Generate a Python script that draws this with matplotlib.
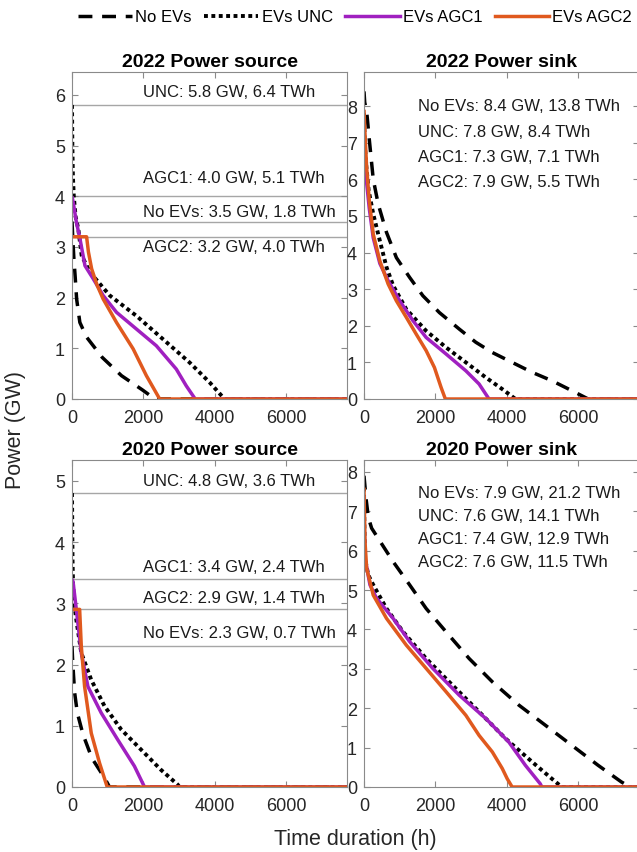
import matplotlib

matplotlib.use("Agg")
import matplotlib.pyplot as plt
from matplotlib.lines import Line2D

# ---- styling ----------------------------------------------------------------
PURPLE = "#A020C0"
ORANGE = "#E0591E"
HLINE = "#a6a6a6"
FRAME = "#8a8a8a"
TICKTXT = "#262626"

plt.rcParams.update(
    {
        "font.family": ["Liberation Sans", "DejaVu Sans"],
        "font.size": 12,
        "axes.edgecolor": FRAME,
        "axes.linewidth": 0.8,
        "figure.facecolor": "white",
    }
)

SHORT = ["No EVs", "UNC", "AGC1", "AGC2"]
LEGEND = ["No EVs", "EVs UNC", "EVs AGC1", "EVs AGC2"]
HOURS_IN_YEAR = 8760

# ---- 2022 power source: duration curves (h, GW) ------------------------------
src22_noev_h = [0, 20, 50, 90, 130, 220, 409, 847, 1386, 1970, 2320]
src22_noev_gw = [3.5, 3.2, 2.8, 2.4, 1.97, 1.51, 1.22, 0.82, 0.46, 0.18, 0.0]
src22_unc_h = [0, 10, 25, 50, 100, 177, 270, 502, 1060, 1804, 2548, 3292, 3850, 4270]
src22_unc_gw = [5.8, 5.0, 4.4, 4.0, 3.6, 3.35, 2.83, 2.5, 2.04, 1.64, 1.18, 0.72, 0.33, 0.0]
src22_agc1_h = [0, 40, 120, 223, 363, 595, 874, 1246, 1804, 2362, 2920, 3199, 3450]
src22_agc1_gw = [4.0, 3.85, 3.5, 3.16, 2.63, 2.37, 2.04, 1.71, 1.38, 1.05, 0.59, 0.26, 0.0]
src22_agc2_h = [0, 409, 460, 549, 700, 874, 1246, 1711, 2083, 2455]
src22_agc2_gw = [3.2, 3.2, 2.9, 2.57, 2.25, 1.97, 1.51, 0.99, 0.46, 0.0]
src22_peak_gw = [3.5, 5.8, 4.0, 3.2]
src22_energy_twh = [1.8, 6.4, 5.1, 4.0]

# ---- 2022 power sink ---------------------------------------------------------
snk22_noev_h = [0, 20, 74, 148, 259, 398, 630, 907, 1278, 1648, 2111, 2667, 3130,
                3593, 4148, 4704, 5260, 5815, 6278]
snk22_noev_gw = [8.4, 8.1, 7.86, 7.09, 6.0, 5.32, 4.55, 3.86, 3.32, 2.82, 2.36, 1.91,
                 1.55, 1.27, 1.0, 0.73, 0.5, 0.23, 0.0]
snk22_unc_h = [0, 20, 60, 130, 259, 444, 630, 815, 1185, 1741, 2296, 2852, 3408, 3871, 4241]
snk22_unc_gw = [7.8, 7.0, 6.4, 5.7, 5.05, 4.32, 3.6, 3.1, 2.45, 1.86, 1.41, 1.0, 0.59, 0.27, 0.0]
snk22_agc1_h = [0, 28, 74, 148, 259, 444, 676, 1000, 1370, 1741, 2296, 2852, 3222, 3500]
snk22_agc1_gw = [7.3, 6.4, 5.9, 5.2, 4.4, 3.7, 3.23, 2.68, 2.14, 1.68, 1.23, 0.77, 0.41, 0.0]
snk22_agc2_h = [0, 28, 74, 148, 259, 444, 676, 907, 1185, 1463, 1741, 1972, 2157, 2278]
snk22_agc2_gw = [7.9, 7.23, 6.32, 5.41, 4.5, 3.77, 3.14, 2.68, 2.23, 1.77, 1.32, 0.86, 0.32, 0.0]
snk22_peak_gw = [8.4, 7.8, 7.3, 7.9]
snk22_energy_twh = [13.8, 8.4, 7.1, 5.5]

# ---- 2020 power source -------------------------------------------------------
src20_noev_h = [0, 15, 40, 74, 149, 307, 558, 911, 1050]
src20_noev_gw = [2.3, 2.1, 1.85, 1.54, 1.21, 0.86, 0.47, 0.15, 0.0]
src20_unc_h = [0, 8, 15, 30, 60, 121, 260, 539, 911, 1376, 1934, 2492, 2957, 3010]
src20_unc_gw = [4.8, 4.2, 3.7, 3.3, 3.0, 2.73, 2.19, 1.75, 1.32, 0.94, 0.61, 0.28, 0.04, 0.0]
src20_agc1_h = [0, 30, 121, 260, 446, 818, 1283, 1748, 2030]
src20_agc1_gw = [3.4, 3.35, 2.9, 2.19, 1.64, 1.21, 0.77, 0.34, 0.0]
src20_agc2_h = [0, 214, 260, 353, 539, 772, 986]
src20_agc2_gw = [2.9, 2.9, 2.3, 1.64, 0.88, 0.39, 0.0]
src20_peak_gw = [2.3, 4.8, 3.4, 2.9]
src20_energy_twh = [0.7, 3.6, 2.4, 1.4]

# ---- 2020 power sink ---------------------------------------------------------
snk20_noev_h = [0, 30, 60, 120, 213, 815, 1278, 1741, 2296, 2945, 3593, 4334, 5075,
                5815, 6556, 7204, 7450]
snk20_noev_gw = [7.9, 7.6, 7.3, 6.85, 6.57, 5.72, 5.13, 4.53, 3.94, 3.26, 2.67, 2.08,
                 1.57, 1.06, 0.55, 0.13, 0.0]
snk20_unc_h = [0, 10, 28, 120, 259, 630, 1093, 1741, 2482, 3222, 3963, 4704, 5260, 5537]
snk20_unc_gw = [7.6, 6.6, 5.8, 5.38, 5.13, 4.53, 3.94, 3.26, 2.58, 1.91, 1.23, 0.64, 0.21, 0.0]
snk20_agc1_h = [0, 10, 30, 167, 352, 815, 1278, 1926, 2667, 3408, 4056, 4519, 4936, 4980]
snk20_agc1_gw = [7.4, 6.5, 5.8, 5.13, 4.79, 4.28, 3.69, 3.01, 2.33, 1.74, 1.14, 0.55, 0.08, 0.0]
snk20_agc2_h = [0, 28, 74, 259, 630, 1185, 1741, 2296, 2852, 3222, 3593, 3871, 4010, 4148]
snk20_agc2_gw = [7.6, 6.23, 5.55, 4.87, 4.28, 3.6, 3.01, 2.42, 1.82, 1.31, 0.89, 0.47, 0.21, 0.0]
snk20_peak_gw = [7.9, 7.6, 7.4, 7.6]
snk20_energy_twh = [21.2, 14.1, 12.9, 11.5]

# ---- line styles per scenario --------------------------------------------------
STYLES = [
    dict(color="black", lw=2.5, ls=(0, (4, 2.8))),
    dict(color="black", lw=2.8, ls=(0, (1, 0.9))),
    dict(color=PURPLE, lw=2.5, ls="-"),
    dict(color=ORANGE, lw=2.5, ls="-"),
]

# axes boxes in pixels: (left, top, right, bottom)
W, H = 637, 853


def box(l, t, r, b):
    return [l / W, (H - b) / H, (r - l) / W, (b - t) / H]


fig = plt.figure(figsize=(W / 100, H / 100), dpi=100)
ax_src22 = fig.add_axes(box(72, 73, 347, 400))
ax_snk22 = fig.add_axes(box(364, 73, 639, 400))
ax_src20 = fig.add_axes(box(72, 461, 347, 788))
ax_snk20 = fig.add_axes(box(364, 461, 639, 788))


def draw_curves(ax, curves):
    for (h, gw), st in zip(curves, STYLES):
        ax.plot(list(h) + [HOURS_IN_YEAR], list(gw) + [0.0], color=st["color"],
                lw=st["lw"], linestyle=st["ls"], solid_capstyle="butt",
                dash_capstyle="butt")


def style_axes(ax, title, ymax, yticks):
    ax.set_xlim(0, 7700)
    ax.set_ylim(0, ymax)
    ax.set_xticks([0, 2000, 4000, 6000])
    ax.set_yticks(yticks)
    ax.tick_params(direction="in", length=4, width=0.8, top=True, right=True,
                   color=FRAME, labelcolor=TICKTXT, labelsize=13)
    ax.tick_params(axis="x", pad=7)
    ax.tick_params(axis="y", pad=5)
    ax.set_title(title, fontsize=14, fontweight="bold", pad=4)


def source_labels(ax, peaks, energy, label_y):
    # peak level lines with their labels
    for name, p, e, ty in zip(SHORT, peaks, energy, label_y):
        ax.axhline(p, color=HLINE, lw=1.0, zorder=1)
        ax.text(1990, ty, f"{name}: {p:.1f} GW, {e:.1f} TWh", fontsize=12,
                ha="left", va="center", color="#1a1a1a")


def sink_labels(ax, peaks, energy, top, step):
    for i, (name, p, e) in enumerate(zip(SHORT, peaks, energy)):
        ax.text(0.197, top - i * step, f"{name}: {p:.1f} GW, {e:.1f} TWh",
                fontsize=12, ha="left", va="center", color="#1a1a1a",
                transform=ax.transAxes)


# 2022 source
style_axes(ax_src22, "2022 Power source", 6.45, range(0, 7))
source_labels(ax_src22, src22_peak_gw, src22_energy_twh, [3.69, 6.07, 4.36, 3.0])
draw_curves(ax_src22, [(src22_noev_h, src22_noev_gw), (src22_unc_h, src22_unc_gw),
                       (src22_agc1_h, src22_agc1_gw), (src22_agc2_h, src22_agc2_gw)])

# 2022 sink
style_axes(ax_snk22, "2022 Power sink", 8.93, range(0, 9))
sink_labels(ax_snk22, snk22_peak_gw, snk22_energy_twh, 0.897, 0.0775)
draw_curves(ax_snk22, [(snk22_noev_h, snk22_noev_gw), (snk22_unc_h, snk22_unc_gw),
                       (snk22_agc1_h, snk22_agc1_gw), (snk22_agc2_h, snk22_agc2_gw)])

# 2020 source
style_axes(ax_src20, "2020 Power source", 5.34, range(0, 6))
source_labels(ax_src20, src20_peak_gw, src20_energy_twh, [2.52, 5.0, 3.6, 3.1])
draw_curves(ax_src20, [(src20_noev_h, src20_noev_gw), (src20_unc_h, src20_unc_gw),
                       (src20_agc1_h, src20_agc1_gw), (src20_agc2_h, src20_agc2_gw)])

# 2020 sink
style_axes(ax_snk20, "2020 Power sink", 8.3, range(0, 9))
sink_labels(ax_snk20, snk20_peak_gw, snk20_energy_twh, 0.901, 0.0705)
draw_curves(ax_snk20, [(snk20_noev_h, snk20_noev_gw), (snk20_unc_h, snk20_unc_gw),
                       (snk20_agc1_h, snk20_agc1_gw), (snk20_agc2_h, snk20_agc2_gw)])

# shared axis labels
fig.text(355.5 / W, 1 - 840 / H, "Time duration (h)", fontsize=15.5, color=TICKTXT,
         ha="center", va="center")
fig.text(16 / W, 1 - 430 / H, "Power (GW)", fontsize=15.5, color=TICKTXT,
         ha="center", va="center", rotation=90)

# legend across the top
handles = [Line2D([], [], color=st["color"], lw=st["lw"], linestyle=st["ls"],
                  dash_capstyle="butt") for st in STYLES]
fig.legend(handles, LEGEND, loc="center", bbox_to_anchor=(355 / W, 1 - 18 / H),
           ncol=4, frameon=False, fontsize=12, handlelength=3.25,
           handletextpad=0.2, columnspacing=0.75, borderpad=0, borderaxespad=0)

fig.savefig("out.png", dpi=100)
